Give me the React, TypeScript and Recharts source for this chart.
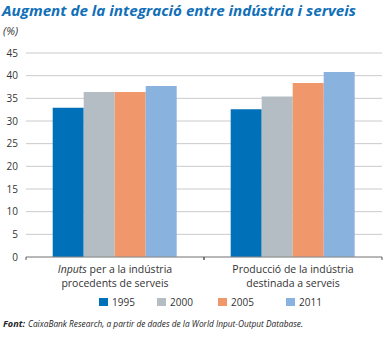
import { BarChart, Bar, XAxis, YAxis, CartesianGrid } from "recharts";

const categories = ["Inputs per a la indústria|procedents de serveis", "Producció de la indústria|destinada a serveis"];
const italicWord = "Inputs";
const years = ["1995", "2000", "2005", "2011"];
const v1995 = [32.9, 32.6];
const v2000 = [36.4, 35.4];
const v2005 = [36.4, 38.4];
const v2011 = [37.7, 40.8];
const yTicks = [0, 5, 10, 15, 20, 25, 30, 35, 40, 45];

const colors = ["#0070b8", "#b3bdc3", "#f0976b", "#8ab2df"];
const font = "'Open Sans', sans-serif";
const W = 387;
const H = 338;

const data = categories.map((c, i) => ({
  name: c,
  "1995": v1995[i],
  "2000": v2000[i],
  "2005": v2005[i],
  "2011": v2011[i],
}));

const band = (W - 5 - 26) / categories.length;

function CatTick(props: any) {
  const { x, y, payload } = props;
  const [l1, l2] = String(payload.value).split("|");
  const rest = l1.startsWith(italicWord) ? l1.slice(italicWord.length) : null;
  const ay = y - 8;
  return (
    <g>
      <line x1={x - band / 2} x2={x - band / 2} y1={ay} y2={ay + 3} stroke="#555" />
      <line x1={x + band / 2} x2={x + band / 2} y1={ay} y2={ay + 3} stroke="#555" />
      <text x={x} y={y + 8} textAnchor="middle" fontSize={10.5} fill="#333" fontFamily={font}>
        {rest !== null ? (
          <>
            <tspan fontStyle="italic">{italicWord}</tspan>
            <tspan>{rest}</tspan>
          </>
        ) : (
          l1
        )}
      </text>
      <text x={x} y={y + 22} textAnchor="middle" fontSize={10.5} fill="#333" fontFamily={font}>
        {l2}
      </text>
    </g>
  );
}

const legendX = [99, 157, 218, 286];

export default function App() {
  return (
    <div style={{ position: "absolute", left: 0, top: 0, width: W, height: H, background: "#fff" }}>
      <BarChart
        width={W}
        height={H}
        data={data}
        margin={{ top: 53, right: 5, bottom: 0, left: 0 }}
        barCategoryGap="15%"
        barGap={0}
      >
        <CartesianGrid vertical={false} stroke="#cacaca" />
        <YAxis
          width={26}
          domain={[0, 45]}
          ticks={yTicks}
          interval={0}
          axisLine={false}
          tickLine={false}
          tick={{ fontSize: 10, fill: "#333", fontFamily: font }}
        />
        <XAxis
          dataKey="name"
          height={81}
          interval={0}
          axisLine={{ stroke: "#8a8a8a" }}
          tickLine={false}
          tick={<CatTick />}
        />
        {years.map((yr, i) => (
          <Bar key={yr} dataKey={yr} fill={colors[i]} isAnimationActive={false} />
        ))}
      </BarChart>
      <svg
        width={W}
        height={H}
        style={{ position: "absolute", left: 0, top: 0, pointerEvents: "none" }}
        fontFamily={font}
      >
        <text x={2} y={16} fontSize={15} fontWeight="bold" fontStyle="italic" fill="#1170b7" textLength={354} lengthAdjust="spacingAndGlyphs">
          Augment de la integració entre indústria i serveis
        </text>
        <text x={3} y={35} fontSize={11} fontStyle="italic" fill="#333">
          (%)
        </text>
        {years.map((yr, i) => (
          <g key={yr}>
            <rect x={legendX[i]} y={298} width={9} height={8} fill={colors[i]} />
            <text x={legendX[i] + 13} y={306} fontSize={10} fill="#333">
              {yr}
            </text>
          </g>
        ))}
        <text x={3} y={327} fontSize={9.5} fontStyle="italic" fontWeight="bold" fill="#222" textLength={22} lengthAdjust="spacingAndGlyphs">
          Font:
        </text>
        <text x={28} y={327} fontSize={9.5} fontStyle="italic" fill="#222" textLength={275} lengthAdjust="spacingAndGlyphs">
          CaixaBank Research, a partir de dades de la World Input-Output Database.
        </text>
      </svg>
    </div>
  );
}
